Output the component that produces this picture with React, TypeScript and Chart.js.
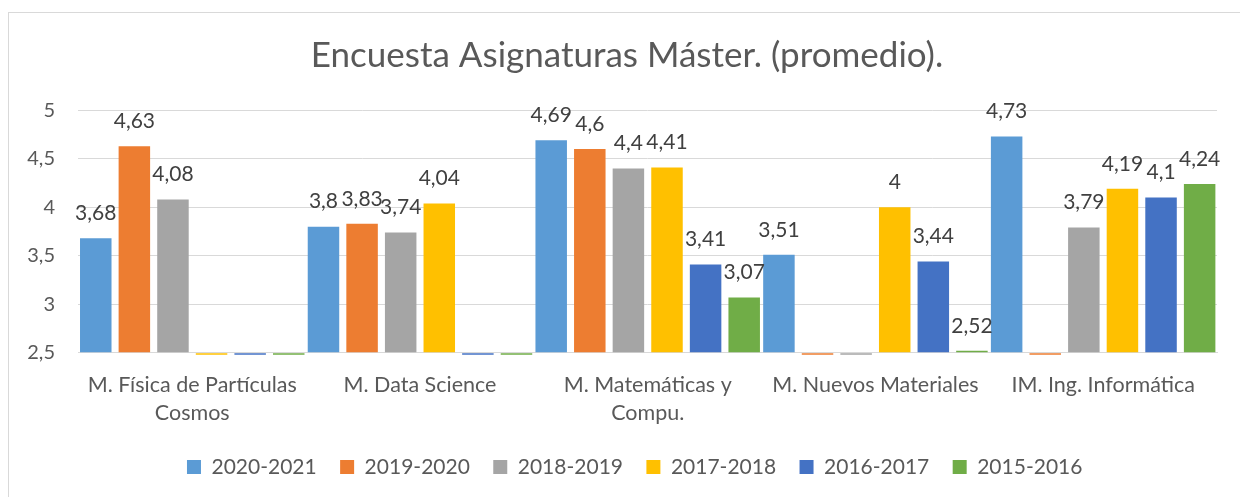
import React, { useEffect, useRef } from "react";
import { Chart, registerables } from "chart.js";

Chart.register(...registerables);

const categories: (string | string[])[] = [
  ["M. Física de Partículas", "Cosmos"],
  "M. Data Science",
  ["M. Matemáticas y", "Compu."],
  "M. Nuevos Materiales",
  "IM. Ing. Informática",
];

const seriesNames = ["2020-2021", "2019-2020", "2018-2019", "2017-2018", "2016-2017", "2015-2016"];

const s2020_2021 = [3.68, 3.8, 4.69, 3.51, 4.73];
const s2019_2020 = [4.63, 3.83, 4.6, 0, 0];
const s2018_2019 = [4.08, 3.74, 4.4, 0, 3.79];
const s2017_2018 = [0, 4.04, 4.41, 4, 4.19];
const s2016_2017 = [0, 0, 3.41, 3.44, 4.1];
const s2015_2016 = [0, 0, 3.07, 2.52, 4.24];

const seriesValues = [s2020_2021, s2019_2020, s2018_2019, s2017_2018, s2016_2017, s2015_2016];
const seriesColors = ["#5B9BD5", "#ED7D31", "#A5A5A5", "#FFC000", "#4472C4", "#70AD47"];

const yMin = 2.5;
const yMax = 5;
const yStep = 0.5;

const FONT = "Lato";

const fmt = (v: number) => String(v).replace(".", ",");

const valueLabels = {
  id: "valueLabels",
  afterDatasetsDraw(chart: any) {
    const ctx = chart.ctx;
    ctx.save();
    ctx.font = `21px ${FONT}`;
    ctx.fillStyle = "#404040";
    ctx.textAlign = "center";
    ctx.textBaseline = "middle";
    chart.data.datasets.forEach((ds: any, i: number) => {
      const meta = chart.getDatasetMeta(i);
      meta.data.forEach((bar: any, j: number) => {
        const v = ds.data[j];
        if (!v || v < yMin) return;
        ctx.fillText(fmt(v), bar.x, bar.y - 25);
      });
    });
    ctx.restore();
  },
};

const legendShift = {
  id: "legendShift",
  afterLayout(chart: any) {
    if (chart.legend) {
      chart.legend.left -= 13;
      chart.legend.right -= 13;
    }
  },
};

export default function App() {
  const ref = useRef<HTMLCanvasElement>(null);
  useEffect(() => {
    document.documentElement.style.overflow = "hidden";
    const chart = new Chart(ref.current as HTMLCanvasElement, {
      type: "bar",
      data: {
        labels: categories,
        datasets: seriesNames.map((name, i) => ({
          label: name,
          data: seriesValues[i],
          backgroundColor: seriesColors[i],
          borderWidth: 0,
          base: yMin,
          categoryPercentage: 1.017,
          barPercentage: 0.816,
          clip: { left: 0, top: 0, right: 0, bottom: 2 } as any,
        })),
      },
      options: {
        responsive: false,
        animation: false,
        devicePixelRatio: 1,
        layout: { padding: { left: 0, right: 0, top: 0, bottom: 13.5 } },
        plugins: {
          title: {
            display: true,
            text: "Encuesta Asignaturas Máster. (promedio).",
            color: "#595959",
            font: { family: FONT, size: 35, weight: "normal" as any, lineHeight: 1.2 },
            padding: { top: 22, bottom: 33.3 },
          },
          legend: {
            position: "bottom",
            fullSize: false,
            labels: {
              boxWidth: 14,
              boxHeight: 14,
              padding: 23.4,
              color: "#595959",
              font: { family: FONT, size: 21 },
            },
          },
          tooltip: { enabled: false },
        },
        scales: {
          x: {
            grid: { display: false, drawTicks: false },
            border: { display: true, color: "#d9d9d9" },
            ticks: {
              color: "#595959",
              font: { family: FONT, size: 21.5, lineHeight: 1.3 },
              padding: 18,
              maxRotation: 0,
              autoSkip: false,
            },
            afterFit: (scale: any) => {
              scale.height = 80.4;
            },
          },
          y: {
            min: yMin,
            max: yMax,
            grid: { color: "#d9d9d9", lineWidth: 1, drawTicks: false },
            border: { display: false },
            ticks: {
              stepSize: yStep,
              color: "#595959",
              font: { family: FONT, size: 20 },
              padding: 23.4,
              callback: (v: any) => fmt(Number(v)),
            },
            afterFit: (scale: any) => {
              scale.width = 69.4;
            },
          },
          y2: {
            position: "right",
            display: true,
            grid: { display: false, drawTicks: false },
            border: { display: false },
            ticks: { display: false },
            afterFit: (scale: any) => {
              scale.width = 28;
            },
          },
        },
      },
      plugins: [valueLabels, legendShift],
    });
    return () => chart.destroy();
  }, []);
  return (
    <div
      style={{
        position: "relative",
        top: 4,
        width: 1238,
        height: 490,
        border: "1px solid #d9d9d9",
        boxSizing: "border-box",
        background: "#fff",
      }}
    >
      <canvas ref={ref} width={1236} height={488} style={{ display: "block" }} />
    </div>
  );
}
